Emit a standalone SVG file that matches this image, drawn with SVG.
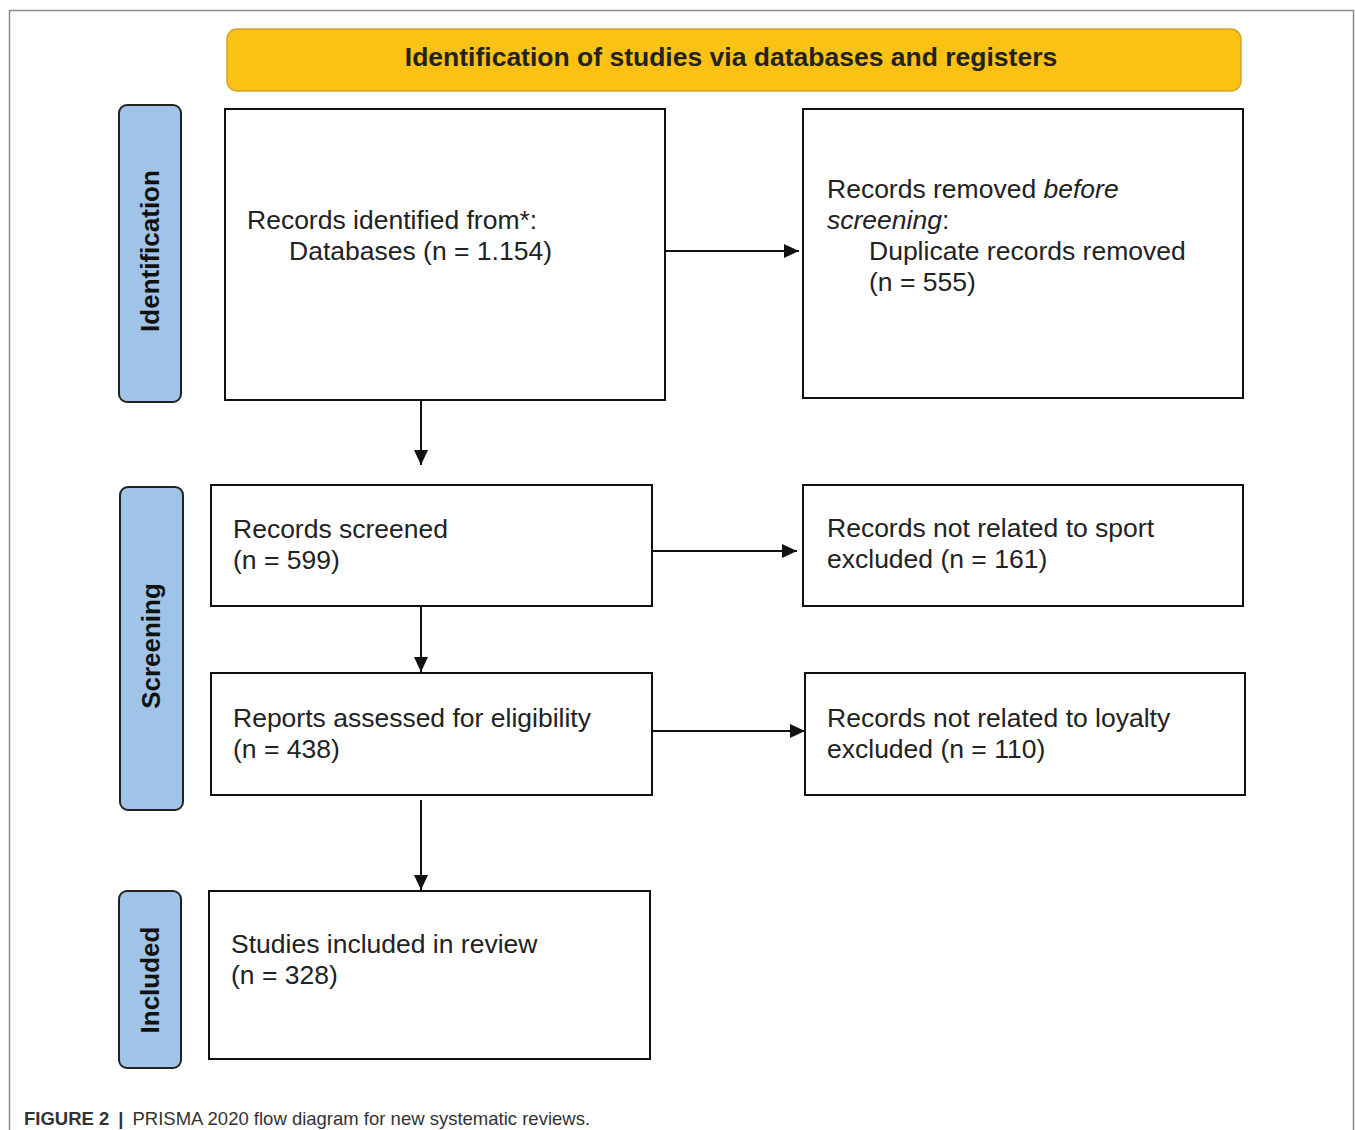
<svg xmlns="http://www.w3.org/2000/svg" width="1355" height="1130" viewBox="0 0 1355 1130">
<style>
.frame{fill:none;stroke:#8c8c8c;stroke-width:1.5}
.box{fill:#fff;stroke:#111;stroke-width:2}
.side{fill:#a0c4e8;stroke:#222;stroke-width:2}
.t{font-family:"Liberation Sans",Arial,sans-serif;font-size:26.5px;fill:#222}
.sl{font-family:"Liberation Sans",Arial,sans-serif;font-size:26px;font-weight:bold;fill:#111}
.edge{stroke:#111;stroke-width:2;fill:none}
</style>
<defs>
<marker id="ah" viewBox="0 0 10 10" refX="10" refY="5" markerWidth="15" markerHeight="14" markerUnits="userSpaceOnUse" orient="auto" preserveAspectRatio="none">
<path d="M0,0 L10,5 L0,10 z" fill="#111"/>
</marker>
</defs>
<rect width="1355" height="1130" fill="#fff"/>
<path class="frame" d="M9.5,1130 V10.5 H1353.5 V1130"/>

<g id="header">
<rect x="227" y="29" width="1014" height="62" rx="10" fill="#fbc213" stroke="#d4a32a" stroke-width="1.5"/>
<text x="731" y="66" text-anchor="middle" font-family="'Liberation Sans',Arial,sans-serif" font-size="26.5" font-weight="bold" fill="#222">Identification of studies via databases and registers</text>
</g>

<g id="lane-identification">
<rect class="side" x="119" y="105" width="62" height="297" rx="8"/>
<text class="sl" transform="translate(159,251) rotate(-90)" text-anchor="middle">Identification</text>
</g>
<g id="lane-screening">
<rect class="side" x="120" y="487" width="63" height="323" rx="8"/>
<text class="sl" transform="translate(160,646) rotate(-90)" text-anchor="middle">Screening</text>
</g>
<g id="lane-included">
<rect class="side" x="119" y="891" width="62" height="177" rx="8"/>
<text class="sl" transform="translate(159,980) rotate(-90)" text-anchor="middle">Included</text>
</g>

<g id="records-identified">
<rect class="box" x="225" y="109" width="440" height="291"/>
<text class="t" x="247" y="229">Records identified from*:</text>
<text class="t" x="289" y="260">Databases (n = 1.154)</text>
</g>
<g id="records-removed">
<rect class="box" x="803" y="109" width="440" height="289"/>
<text class="t" x="827" y="198">Records removed <tspan font-style="italic">before</tspan></text>
<text class="t" x="827" y="229"><tspan font-style="italic">screening</tspan>:</text>
<text class="t" x="869" y="260">Duplicate records removed</text>
<text class="t" x="869" y="291">(n = 555)</text>
</g>
<g id="records-screened">
<rect class="box" x="211" y="485" width="441" height="121"/>
<text class="t" x="233" y="538">Records screened</text>
<text class="t" x="233" y="569">(n = 599)</text>
</g>
<g id="excluded-sport">
<rect class="box" x="803" y="485" width="440" height="121"/>
<text class="t" x="827" y="537">Records not related to sport</text>
<text class="t" x="827" y="568">excluded (n = 161)</text>
</g>
<g id="reports-assessed">
<rect class="box" x="211" y="673" width="441" height="122"/>
<text class="t" x="233" y="727">Reports assessed for eligibility</text>
<text class="t" x="233" y="758">(n = 438)</text>
</g>
<g id="excluded-loyalty">
<rect class="box" x="805" y="673" width="440" height="122"/>
<text class="t" x="827" y="727">Records not related to loyalty</text>
<text class="t" x="827" y="758">excluded (n = 110)</text>
</g>
<g id="studies-included">
<rect class="box" x="209" y="891" width="441" height="168"/>
<text class="t" x="231" y="953">Studies included in review</text>
<text class="t" x="231" y="984">(n = 328)</text>
</g>

<g id="connectors">
<line class="edge" x1="666" y1="251" x2="799" y2="251" marker-end="url(#ah)"/>
<line class="edge" x1="421" y1="401" x2="421" y2="465" marker-end="url(#ah)"/>
<line class="edge" x1="653" y1="551" x2="797" y2="551" marker-end="url(#ah)"/>
<line class="edge" x1="421" y1="607" x2="421" y2="672" marker-end="url(#ah)"/>
<line class="edge" x1="653" y1="731" x2="805" y2="731" marker-end="url(#ah)"/>
<line class="edge" x1="421" y1="800" x2="421" y2="890" marker-end="url(#ah)"/>
</g>

<text x="24" y="1125" font-family="'Liberation Sans',Arial,sans-serif" font-size="18.5" fill="#333"><tspan font-weight="bold">FIGURE 2</tspan><tspan font-weight="bold" dx="9">|</tspan><tspan dx="9">PRISMA 2020 flow diagram for new systematic reviews.</tspan></text>
</svg>
